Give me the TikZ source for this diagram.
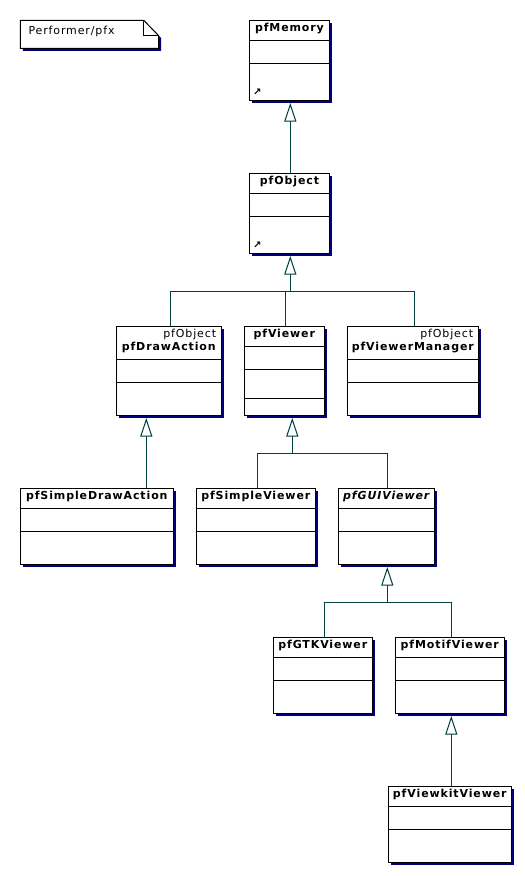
\documentclass[tikz,border=0pt]{standalone}
\usepackage{fontspec}
\usepackage{xcolor}
\usepackage{tikz}
\usetikzlibrary{arrows.meta, shadows, calc}
\newfontfamily\umlfont[LetterSpace=8]{DejaVu Sans}
\definecolor{umlnavy}{HTML}{000080}
\definecolor{umlteal}{HTML}{004040}
\tikzset{
  umlshadow/.style={
    drop shadow={shadow xshift=2.5pt, shadow yshift=-2.5pt, fill=umlnavy, opacity=1}
  },
  classbox/.style={
    draw, line width=1pt, fill=white, anchor=north west, outer sep=0pt,
    inner sep=0pt, umlshadow
  },
  classname/.style={
    anchor=base, inner sep=0pt, font=\umlfont\bfseries\fontsize{11}{13}\selectfont
  },
  classtag/.style={
    anchor=base east, inner sep=0pt, font=\umlfont\fontsize{11}{13}\selectfont
  },
  classdots/.style={
    anchor=base west, inner sep=0pt, font=\fontspec{DejaVu Sans}\bfseries\fontsize{10}{11}\selectfont
  },
  classline/.style={line width=1pt},
  genarrow/.style={
    -{Triangle[open, fill=white, length=18.5pt, width=12pt]}, line width=1pt,
    color=umlteal, shorten >=2.7pt
  },
  genline/.style={line width=1pt, color=umlteal},
}
\begin{document}
\begin{tikzpicture}[x=1pt, y=-1pt]
  \useasboundingbox (0,0) rectangle (525,876);

  % === Package note ===
  \coordinate (noteA) at (20.3,20.3);
  \coordinate (noteB) at (143.7,20.3);
  \coordinate (noteC) at (158.7,35.7);
  \coordinate (noteD) at (158.7,48.3);
  \coordinate (noteE) at (20.3,48.3);
  \coordinate (noteF) at (143.7,35.7);
  \draw[classline, fill=white, umlshadow] (noteA) -- (noteB) -- (noteC) -- (noteD) -- (noteE) -- cycle;
  \draw[classline] (noteB) -- (noteF) -- (noteC);
  \node[classtag, anchor=base west] (noteText) at (28.3,34) {Performer/pfx};

  % === Connectors ===
  \coordinate (objectjoin) at (290.3,291.3);
  \coordinate (viewerjoin) at (292.3,453.3);
  \coordinate (guijoin) at (387.3,602.3);

  % === Top chain ===
  \node[classbox, minimum width=80pt, minimum height=80pt] (pfMemory) at (249.5,20.3) {};
  \node[classname] (pfMemoryName) at ([yshift=-10.7pt]pfMemory.north) {pfMemory};
  \draw[classline] ([yshift=-20pt]pfMemory.north west) -- ([yshift=-20pt]pfMemory.north east);
  \draw[classline] ([yshift=-43pt]pfMemory.north west) -- ([yshift=-43pt]pfMemory.north east);
  \node[classdots] (pfMemoryRef) at ([xshift=3.5pt,yshift=5pt]pfMemory.south west) {↗};

  \node[classbox, minimum width=80pt, minimum height=80pt] (pfObject) at (249.5,173.3) {};
  \node[classname] (pfObjectName) at ([yshift=-10.7pt]pfObject.north) {pfObject};
  \draw[classline] ([yshift=-20pt]pfObject.north west) -- ([yshift=-20pt]pfObject.north east);
  \draw[classline] ([yshift=-43pt]pfObject.north west) -- ([yshift=-43pt]pfObject.north east);
  \node[classdots] (pfObjectRef) at ([xshift=3.5pt,yshift=5pt]pfObject.south west) {↗};

  % === Second row ===
  \node[classbox, minimum width=105pt, minimum height=89pt] (pfDrawAction) at (116.3,326.3) {};
  \node[classtag] (pfDrawActionTag) at ([xshift=-5pt,yshift=-11pt]pfDrawAction.north east) {pfObject};
  \node[classname] (pfDrawActionName) at ([yshift=-23.7pt]pfDrawAction.north) {pfDrawAction};
  \draw[classline] ([yshift=-33pt]pfDrawAction.north west) -- ([yshift=-33pt]pfDrawAction.north east);
  \draw[classline] ([yshift=-56pt]pfDrawAction.north west) -- ([yshift=-56pt]pfDrawAction.north east);

  \node[classbox, minimum width=80pt, minimum height=89pt] (pfViewer) at (244.3,326.3) {};
  \node[classname] (pfViewerName) at ([yshift=-10.7pt]pfViewer.north) {pfViewer};
  \draw[classline] ([yshift=-20pt]pfViewer.north west) -- ([yshift=-20pt]pfViewer.north east);
  \draw[classline] ([yshift=-43pt]pfViewer.north west) -- ([yshift=-43pt]pfViewer.north east);
  \draw[classline] ([yshift=-72pt]pfViewer.north west) -- ([yshift=-72pt]pfViewer.north east);

  \node[classbox, minimum width=131pt, minimum height=89pt] (pfViewerManager) at (347.3,326.3) {};
  \node[classtag] (pfViewerManagerTag) at ([xshift=-5pt,yshift=-11pt]pfViewerManager.north east) {pfObject};
  \node[classname] (pfViewerManagerName) at ([yshift=-23.7pt]pfViewerManager.north) {pfViewerManager};
  \draw[classline] ([yshift=-33pt]pfViewerManager.north west) -- ([yshift=-33pt]pfViewerManager.north east);
  \draw[classline] ([yshift=-56pt]pfViewerManager.north west) -- ([yshift=-56pt]pfViewerManager.north east);

  % === Third row ===
  \node[classbox, minimum width=153pt, minimum height=76pt] (pfSimpleDrawAction) at (20.3,488.3) {};
  \node[classname] (pfSimpleDrawActionName) at ([yshift=-10.7pt]pfSimpleDrawAction.north) {pfSimpleDrawAction};
  \draw[classline] ([yshift=-20pt]pfSimpleDrawAction.north west) -- ([yshift=-20pt]pfSimpleDrawAction.north east);
  \draw[classline] ([yshift=-43pt]pfSimpleDrawAction.north west) -- ([yshift=-43pt]pfSimpleDrawAction.north east);

  \node[classbox, minimum width=119pt, minimum height=76pt] (pfSimpleViewer) at (196.3,488.3) {};
  \node[classname] (pfSimpleViewerName) at ([yshift=-10.7pt]pfSimpleViewer.north) {pfSimpleViewer};
  \draw[classline] ([yshift=-20pt]pfSimpleViewer.north west) -- ([yshift=-20pt]pfSimpleViewer.north east);
  \draw[classline] ([yshift=-43pt]pfSimpleViewer.north west) -- ([yshift=-43pt]pfSimpleViewer.north east);

  \node[classbox, minimum width=96pt, minimum height=76pt] (pfGUIViewer) at (338.3,488.3) {};
  \node[classname] (pfGUIViewerName) at ([yshift=-10.7pt]pfGUIViewer.north) {\itshape pfGUIViewer};
  \draw[classline] ([yshift=-20pt]pfGUIViewer.north west) -- ([yshift=-20pt]pfGUIViewer.north east);
  \draw[classline] ([yshift=-43pt]pfGUIViewer.north west) -- ([yshift=-43pt]pfGUIViewer.north east);

  % === Fourth row ===
  \node[classbox, minimum width=99pt, minimum height=76pt] (pfGTKViewer) at (273.3,637.3) {};
  \node[classname] (pfGTKViewerName) at ([yshift=-10.7pt]pfGTKViewer.north) {pfGTKViewer};
  \draw[classline] ([yshift=-20pt]pfGTKViewer.north west) -- ([yshift=-20pt]pfGTKViewer.north east);
  \draw[classline] ([yshift=-43pt]pfGTKViewer.north west) -- ([yshift=-43pt]pfGTKViewer.north east);

  \node[classbox, minimum width=109pt, minimum height=76pt] (pfMotifViewer) at (395.3,637.3) {};
  \node[classname] (pfMotifViewerName) at ([yshift=-10.7pt]pfMotifViewer.north) {pfMotifViewer};
  \draw[classline] ([yshift=-20pt]pfMotifViewer.north west) -- ([yshift=-20pt]pfMotifViewer.north east);
  \draw[classline] ([yshift=-43pt]pfMotifViewer.north west) -- ([yshift=-43pt]pfMotifViewer.north east);

  % === Bottom ===
  \node[classbox, minimum width=123pt, minimum height=76pt] (pfViewkitViewer) at (388.3,786.3) {};
  \node[classname] (pfViewkitViewerName) at ([yshift=-10.7pt]pfViewkitViewer.north) {pfViewkitViewer};
  \draw[classline] ([yshift=-20pt]pfViewkitViewer.north west) -- ([yshift=-20pt]pfViewkitViewer.north east);
  \draw[classline] ([yshift=-43pt]pfViewkitViewer.north west) -- ([yshift=-43pt]pfViewkitViewer.north east);

  % === Generalisations ===
  \draw[genarrow] ([xshift=0.8pt]pfObject.north) -- ([xshift=0.8pt]pfMemory.south);
  \draw[genarrow] (objectjoin) -- (objectjoin |- pfObject.south);
  \draw[genline] ([xshift=1.5pt]pfDrawAction.north) |- (objectjoin);
  \draw[genline] ([xshift=1pt]pfViewer.north) |- (objectjoin);
  \draw[genline] ([xshift=1.5pt]pfViewerManager.north) |- (objectjoin);

  \draw[genarrow] ([xshift=-22.5pt]pfDrawAction.south |- pfSimpleDrawAction.north) -- ([xshift=-22.5pt]pfDrawAction.south);
  \draw[genarrow] (viewerjoin) -- (viewerjoin |- pfViewer.south);
  \draw[genline] ([xshift=1.5pt]pfSimpleViewer.north) |- (viewerjoin);
  \draw[genline] ([xshift=1pt]pfGUIViewer.north) |- (viewerjoin);

  \draw[genarrow] (guijoin) -- (guijoin |- pfGUIViewer.south);
  \draw[genline] ([xshift=1.5pt]pfGTKViewer.north) |- (guijoin);
  \draw[genline] ([xshift=1.5pt]pfMotifViewer.north) |- (guijoin);

  \draw[genarrow] ([xshift=1.5pt]pfViewkitViewer.north) -- ([xshift=1.5pt]pfViewkitViewer.north |- pfMotifViewer.south);
\end{tikzpicture}
\end{document}
